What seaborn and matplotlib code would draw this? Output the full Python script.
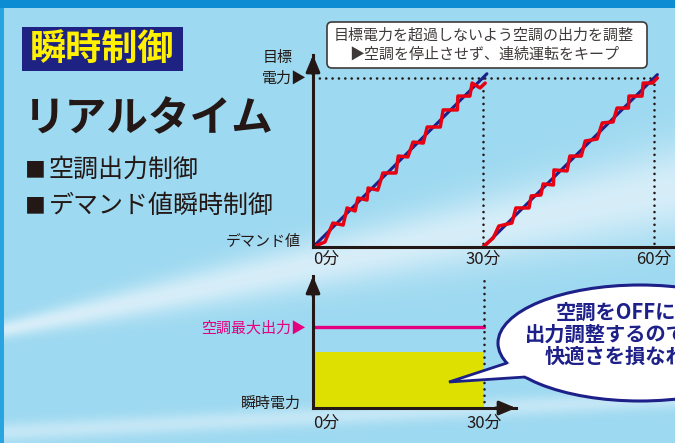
import numpy as np
import seaborn as sns
import matplotlib.pyplot as plt
from matplotlib.patches import Rectangle, FancyBboxPatch, Ellipse, Polygon

# --- values ---
# top chart: minutes vs demand (% of target power)
trend_a_min = [0, 30.6]
trend_a_val = [0, 102.5]
trend_b_min = [30, 60.6]
trend_b_val = [0, 102]
ctrl_a_min = [0, 2.1, 3.5, 5.3, 6.0, 7.4, 7.9, 9.5, 9.7, 11.4, 12.3, 14.6, 15.0,
              16.7, 17.6, 19.4, 20.1, 22.4, 22.9, 25.4, 25.5, 27.6, 28.0, 29.4, 30.3]
ctrl_a_val = [0, 3.0, 14.2, 13.0, 23.1, 21.3, 29.0, 27.8, 34.9, 33.7, 43.8, 43.8, 53.8,
              53.3, 62.1, 61.5, 71.0, 71.0, 81.1, 81.1, 89.3, 89.3, 97.0, 94.1, 97.0]
ctrl_b_min = [29.9, 31.7, 32.7, 35.0, 35.7, 38.0, 38.4, 40.1, 40.5, 42.3, 42.4, 44.7, 45.2,
              47.2, 47.9, 50.0, 50.9, 52.8, 53.5, 55.5, 55.6, 57.9, 58.1, 59.7, 60.6]
ctrl_b_val = [0, 5.3, 12.4, 14.2, 23.1, 23.1, 30.2, 30.8, 37.3, 36.7, 45.6, 45.0, 53.8,
              53.8, 62.7, 63.9, 73.4, 74.0, 82.2, 82.2, 89.3, 89.3, 97.0, 97.0, 100]
target_val = 100
top_ticks = [0, 30, 60]
top_tick_labels = ['0分', '30分', '60分']

# bottom chart: instant power vs max output of the air conditioner
bottom_ticks = [0, 30]
bottom_tick_labels = ['0分', '30分']
max_output = 100
instant_power = 69

NAVY = '#1d2088'
RED = '#e60012'
PINK = '#e4007f'
YELLOW = '#dde000'
INK = '#231815'
GRAY = '#3e3a39'

sns.set_theme(style='white')
plt.rcParams['font.family'] = ['Noto Sans CJK JP', 'DejaVu Sans']

W, H = 675, 443
fig = plt.figure(figsize=(6.75, 4.43), dpi=100)


def px_axes(l, t, r, b):
    a = fig.add_axes([l / W, 1 - b / H, (r - l) / W, (b - t) / H])
    a.set_facecolor('none')
    return a


# background sky with soft streaks
bg = px_axes(0, 0, W, H)
yy, xx = np.mgrid[0:H, 0:W].astype(float)
sky = np.array([157, 217, 241]) / 255
haze = np.array([234, 245, 251]) / 255
w = 0.75 * np.exp(-0.5 * ((yy - (330 - 0.21 * xx)) / (6 + 0.04 * xx)) ** 2)
w += 0.5 * np.exp(-0.5 * ((yy - (432 - 0.05 * xx)) / 7) ** 2)
w = np.clip(w, 0, 1)[..., None]
img = sky * (1 - w) + haze * w
img[:8] = np.array([12, 140, 210]) / 255
img[8:, :4] = np.array([40, 165, 225]) / 255
bg.imshow(img, extent=(0, W, H, 0), aspect='auto', interpolation='bilinear')
bg.set_xlim(0, W)
bg.set_ylim(H, 0)
bg.axis('off')

dots = dict(color=INK, lw=1.9, ls=(0, (0.01, 2.4)), dash_capstyle='round')
arrow = dict(arrowstyle='-|>,head_length=1.0,head_width=0.42', color=INK, lw=2.2,
             mutation_scale=10, shrinkA=0, shrinkB=0)

# top chart
ax = px_axes(313, 55, 675, 247)
ax.set_xlim(0, 63.7)
ax.set_ylim(0, 113.6)
ax.plot([0, 60], [target_val, target_val], **dots)
ax.plot([30, 30], [target_val, 0], **dots)
ax.plot([60, 60], [target_val, 0], **dots)
sns.lineplot(x=trend_a_min, y=trend_a_val, ax=ax, color=NAVY, lw=2.2, sort=False, estimator=None)
sns.lineplot(x=trend_b_min, y=trend_b_val, ax=ax, color=NAVY, lw=2.2, sort=False, estimator=None)
sns.lineplot(x=ctrl_a_min, y=ctrl_a_val, ax=ax, color=RED, lw=2.5, sort=False, estimator=None)
sns.lineplot(x=ctrl_b_min, y=ctrl_b_val, ax=ax, color=RED, lw=2.5, sort=False, estimator=None)
for s in ['top', 'right']:
    ax.spines[s].set_visible(False)
for s in ['left', 'bottom']:
    ax.spines[s].set_color(INK)
    ax.spines[s].set_linewidth(2.2)
ax.annotate('', xy=(0, 1), xytext=(0, 0.9), xycoords='axes fraction', arrowprops=arrow)
ax.set_xticks(top_ticks, top_tick_labels)
ax.set_yticks([])
ax.tick_params(axis='x', length=0, pad=3, labelsize=12, labelcolor=INK)
ax.get_xticklabels()[0].set_ha('left')
ax.set_xlabel('')

# bottom chart
ax2 = px_axes(313, 276, 516, 408)
ax2.set_xlim(0, 35.6)
ax2.set_ylim(0, 163)
ax2.fill_between([0, 30], [instant_power, instant_power], color=YELLOW, lw=0)
sns.lineplot(x=[0, 30], y=[max_output, max_output], ax=ax2, color=PINK, lw=2.4)
ax2.plot([30, 30], [0, 163], clip_on=False, **dots)
for s in ['top', 'right']:
    ax2.spines[s].set_visible(False)
for s in ['left', 'bottom']:
    ax2.spines[s].set_color(INK)
    ax2.spines[s].set_linewidth(2.2)
ax2.annotate('', xy=(0, 1), xytext=(0, 0.85), xycoords='axes fraction', arrowprops=arrow)
ax2.annotate('', xy=(1, 0), xytext=(0.9, 0), xycoords='axes fraction', arrowprops=arrow)
ax2.set_xticks(bottom_ticks, bottom_tick_labels)
ax2.set_yticks([])
ax2.tick_params(axis='x', length=0, pad=5, labelsize=12, labelcolor=INK)
ax2.get_xticklabels()[0].set_ha('left')

# overlay: texts and speech bubble
fg = px_axes(0, 0, W, H)
fg.set_xlim(0, W)
fg.set_ylim(H, 0)
fg.axis('off')

fg.add_patch(Rectangle((22, 27), 161, 44, fc='#1e2283', ec='none'))
fg.text(102.5, 49, '瞬時制御', fontsize=26, weight='bold', color='#fff100', ha='center', va='center')
fg.text(24, 119, 'リアルタイム', fontsize=30, weight='bold', color=INK, ha='left', va='center')
for y, label in [(170, '空調出力制御'), (206, 'デマンド値瞬時制御')]:
    fg.text(25, y, '■', fontsize=15, color=INK, ha='left', va='center')
    fg.text(49, y, label, fontsize=18, color=INK, ha='left', va='center')

fg.add_patch(FancyBboxPatch((327, 22), 320, 46, boxstyle='round,pad=0,rounding_size=5',
                            fc='white', ec=GRAY, lw=1.2))
fg.text(484, 35, '目標電力を超過しないよう空調の出力を調整', fontsize=10.8, color=GRAY,
        ha='center', va='center')
fg.text(484, 54, '▶空調を停止させず、連続運転をキープ', fontsize=10.8, color=GRAY,
        ha='center', va='center')

fg.text(263, 58, '目標', fontsize=10.8, color=INK, ha='left', va='center')
fg.text(307, 78, '電力▶', fontsize=10.8, color=INK, ha='right', va='center')
fg.text(301, 242, 'デマンド値', fontsize=10.8, color=INK, ha='right', va='center')
fg.text(306, 328, '空調最大出力▶', fontsize=10.8, color=PINK, ha='right', va='center')
fg.text(301, 404, '瞬時電力', fontsize=10.8, color=INK, ha='right', va='center')

fg.add_patch(Ellipse((640, 343), 284, 116, fc='white', ec=NAVY, lw=2.2))
fg.add_patch(Polygon([(449, 382), (507, 363), (545, 370), (525, 377)], closed=True,
                     fc='white', ec='none'))
fg.plot([507, 449, 525], [363, 382, 377], color=NAVY, lw=2.0, solid_joinstyle='miter')
fg.text(556, 312, '空調をOFFにせず', fontsize=14.6, weight='bold', color=NAVY, ha='left', va='center')
fg.text(525, 334, '出力調整するので', fontsize=14.6, weight='bold', color=NAVY, ha='left', va='center')
fg.text(545, 356, '快適さを損なわない', fontsize=14.6, weight='bold', color=NAVY, ha='left', va='center')

fig.savefig('out.png', dpi=100)
